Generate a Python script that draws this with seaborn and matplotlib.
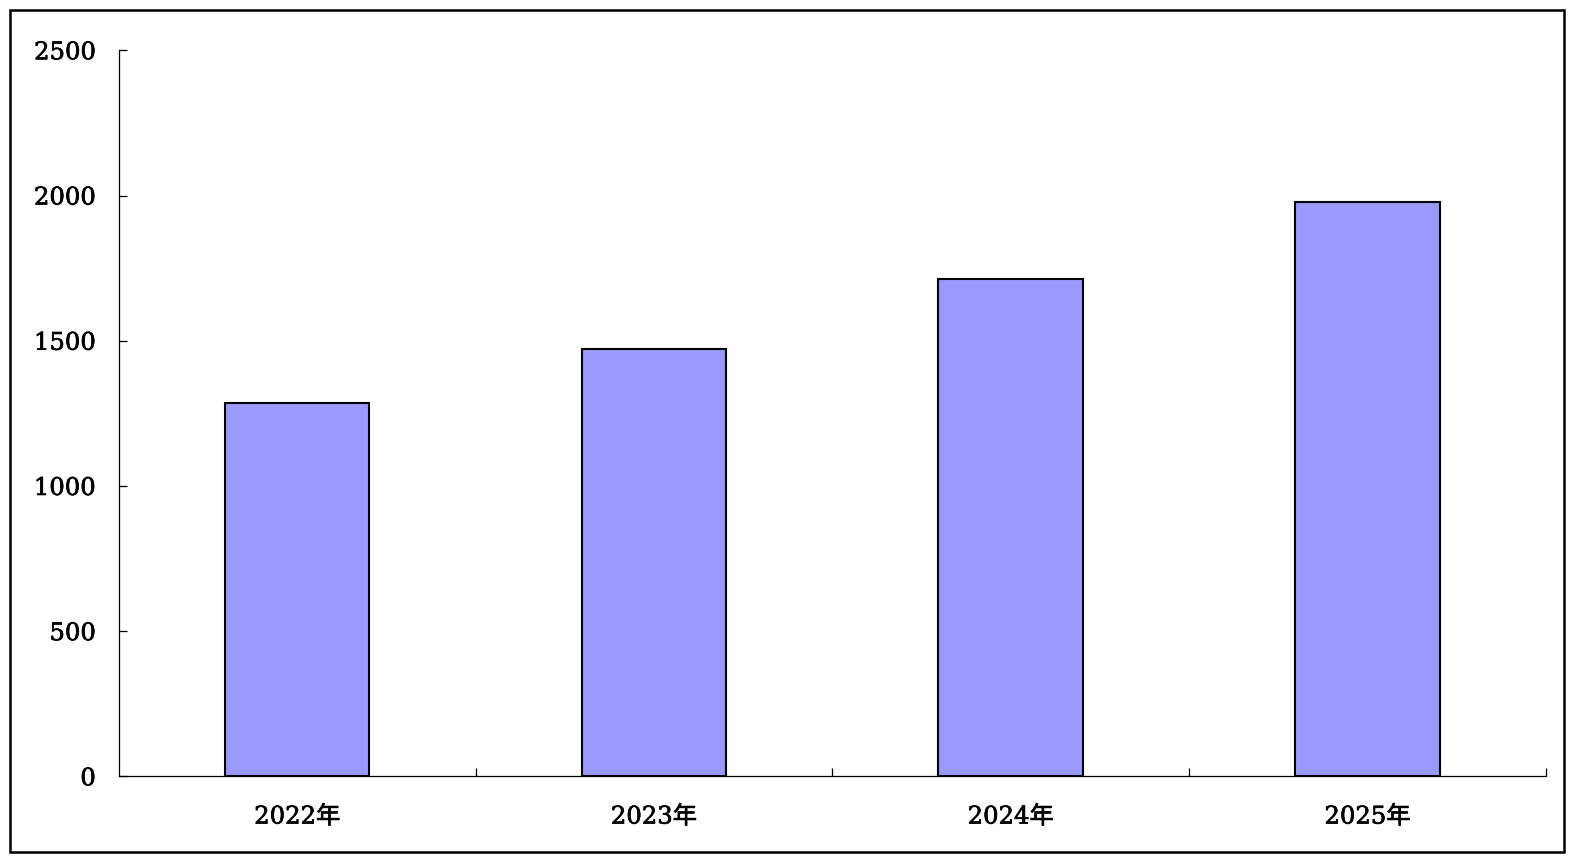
import matplotlib.pyplot as plt
import matplotlib.patches as mpatches
import matplotlib.patheffects as pe
import pandas as pd
import seaborn as sns

# chart data
years = ['2022年', '2023年', '2024年', '2025年']
values = [1286, 1472, 1714, 1977]
yticks = [0, 500, 1000, 1500, 2000, 2500]

df = pd.DataFrame({'year': years, 'value': values})

sns.set_style('white')
plt.rcParams['font.family'] = ['DejaVu Serif', 'Noto Sans CJK SC']

fig = plt.figure(figsize=(15.77, 8.64), dpi=100)
ax = fig.add_axes([0.0753, 0.1014, 0.9049, 0.8404])

sns.barplot(df, x='year', y='value', color='#9999FF', saturation=1,
            edgecolor='black', linewidth=1.5, width=0.405, ax=ax)

ax.set_xlim(-0.5, 3.5)
ax.set_ylim(0, 2500)
ax.set_yticks(yticks)
ax.set(xlabel='', ylabel='')

for side in ['top', 'right']:
  ax.spines[side].set_visible(False)
for side in ['left', 'bottom']:
  ax.spines[side].set_linewidth(0.9)
  ax.spines[side].set_color('black')

ax.tick_params(axis='y', left=True, direction='in', length=6, width=0.9,
               pad=16.5, labelsize=17.5, colors='black')
ax.tick_params(axis='x', which='major', bottom=True, length=0, pad=21,
               labelsize=17.5, colors='black')
ax.set_xticks([0.5, 1.5, 2.5, 3.5], minor=True)
ax.tick_params(axis='x', which='minor', bottom=True, direction='in',
               length=6, width=0.9, color='black')
# a thin stroke gives the medium weight of the original lettering
for lab in ax.get_xticklabels() + ax.get_yticklabels():
  lab.set_path_effects([pe.withStroke(linewidth=0.5, foreground='black')])

# outer frame around the whole chart
fig.patches.append(mpatches.Rectangle(
  (10 / 1577, 1 - 852 / 864), 1554 / 1577, 842 / 864,
  transform=fig.transFigure, fill=False, edgecolor='black', linewidth=1.8))

fig.savefig('out.png', dpi=100)
